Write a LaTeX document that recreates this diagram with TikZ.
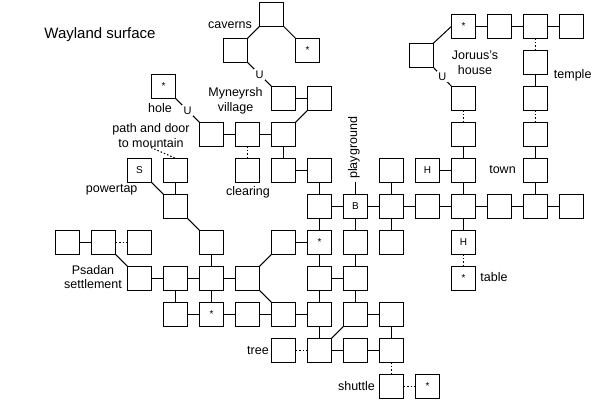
\documentclass[tikz,border=0pt]{standalone}
\usepackage{fontspec}
\setmainfont{Liberation Sans}
\begin{document}
\begin{tikzpicture}[x=1pt,y=-1pt,
  box/.style={draw,line width=1pt,minimum size=24pt,inner sep=0pt,outer sep=0pt,font=\fontsize{10}{12}\selectfont},
  lbl/.style={inner sep=0pt,align=center,font=\fontsize{12.5}{14.5}\selectfont},
  ulbl/.style={fill=white,inner sep=1.5pt,font=\fontsize{11}{13}\selectfont},
  con/.style={line width=1pt},
  dotcon/.style={line width=1pt,dash pattern=on 1.5pt off 2pt},
]
\useasboundingbox[fill=white] (0,0) rectangle (602,403);
% grid boxes
\foreach \c/\r/\t in {12/0/*,13/0/,14/0/,15/0/,
  14/1/,
  7/2/,8/2/,12/2/,14/2/,
  5/3/,6/3/,7/3/,12/3/,14/3/,
  3/4/S,4/4/,6/4/,7/4/,8/4/,10/4/,11/4/H,12/4/,14/4/,
  4/5/,8/5/,9/5/B,10/5/,11/5/,12/5/,13/5/,14/5/,15/5/,
  1/6/,2/6/,3/6/,5/6/,7/6/,8/6/*,9/6/,10/6/,12/6/H,
  3/7/,4/7/,5/7/,6/7/,8/7/,9/7/,12/7/*,
  4/8/,5/8/*,6/8/,7/8/,8/8/,9/8/,10/8/,
  7/9/,8/9/,9/9/,10/9/,
  10/10/,11/10/*}
  \node[box] (b\c-\r) at ({31.5+36*\c},{26.3+36*\r}) {\t};
% off-grid boxes
\node[box] (cavtop) at (271.5,14.3) {};
\node[box] (cavl) at (235.5,50.3) {};
\node[box] (cavs) at (307.5,50.3) {*};
\node[box] (hole) at (163.5,86.3) {*};
\node[box] (jor) at (421.3,55.3) {};
% solid straight connectors
\foreach \a/\b in {b12-0/b13-0,b13-0/b14-0,b14-0/b15-0,
  b7-2/b8-2,b5-3/b6-3,b6-3/b7-3,b7-4/b8-4,b11-4/b12-4,
  b8-5/b9-5,b9-5/b10-5,b10-5/b11-5,b11-5/b12-5,b12-5/b13-5,b13-5/b14-5,b14-5/b15-5,
  b1-6/b2-6,b7-6/b8-6,
  b3-7/b4-7,b4-7/b5-7,b5-7/b6-7,b8-7/b9-7,
  b4-8/b5-8,b5-8/b6-8,b6-8/b7-8,b7-8/b8-8,b9-8/b10-8,
  b8-9/b9-9,b9-9/b10-9,
  b4-4/b4-5,b5-6/b5-7,b5-7/b5-8,b4-7/b4-8,b7-3/b7-4,
  b8-4/b8-5,b8-5/b8-6,b8-6/b8-7,b8-7/b8-8,b8-8/b8-9,
  b9-5/b9-6,b9-6/b9-7,b9-7/b9-8,
  b10-4/b10-5,b10-5/b10-6,b10-8/b10-9,
  b12-3/b12-4,b12-4/b12-5,b12-5/b12-6,
  b14-1/b14-2,b14-3/b14-4,b14-4/b14-5}
  \draw[con] (\a) -- (\b);
% dotted connectors
\foreach \a/\b in {b2-6/b3-6,b7-9/b8-9,b10-10/b11-10,
  b6-3/b6-4,b12-2/b12-3,b12-6/b12-7,b14-0/b14-1,b14-2/b14-3,b10-9/b10-10}
  \draw[dotcon] (\a) -- (\b);
% diagonal connectors
\draw[con] (cavtop.south west) -- (cavl.north east);
\draw[con] (cavtop.south east) -- (cavs.north west);
\draw[con] (b8-2.south west) -- (b7-3.north east);
\draw[con] (b3-4.south east) -- (b4-5.north west);
\draw[con] (b4-5.south east) -- (b5-6.north west);
\draw[con] (b2-6.south east) -- (b3-7.north west);
\draw[con] (b6-7.north east) -- (b7-6.south west);
\draw[con] (b6-7.south east) -- (b7-8.north west);
\draw[con] (b8-9.north east) -- (b9-8.south west);
\draw[con] (jor.north east) -- (b12-0.west);
\draw[con] (cavl.south east) -- node[ulbl] {U} (b7-2.north west);
\draw[con] (hole.south east) -- node[ulbl] {U} (b5-3.north west);
\draw[con] (jor.south east) -- node[ulbl] {U} (b12-2.north west);
% labels
\node[lbl,font=\fontsize{15}{18}\selectfont] (title) at (100,35) {Wayland surface};
\node[lbl] (lcav) at (230,25) {caverns};
\node[lbl] (lmyn) at (235.5,101) {Myneyrsh\\village};
\node[lbl] (lhole) at (160,108) {hole};
\node[lbl] (lpath) at (151,135.5) {path and door\\to mountain};
\node[lbl] (lpow) at (111.7,190) {powertap};
\node[lbl] (lclr) at (248,192) {clearing};
\node[lbl] (lpsa) at (93,277) {Psadan\\settlement};
\node[lbl] (ltree) at (258,351) {tree};
\node[lbl] (lshut) at (356.5,386) {shuttle};
\node[lbl] (ltab) at (494,277) {table};
\node[lbl] (ltown) at (502.5,170) {town};
\node[lbl] (ltemp) at (572.7,75) {temple};
\node[lbl] (ljor) at (475,63) {Joruus\char39 s\\house};
\node[lbl,rotate=90,anchor=west,inner sep=3pt] (lpg) at (354,182) {playground};
\draw[con] (b9-5.north) -- (b9-5.north |- lpg.west);
\draw[dotcon] (lpath.south) -- (b4-4.north);
\end{tikzpicture}
\end{document}
